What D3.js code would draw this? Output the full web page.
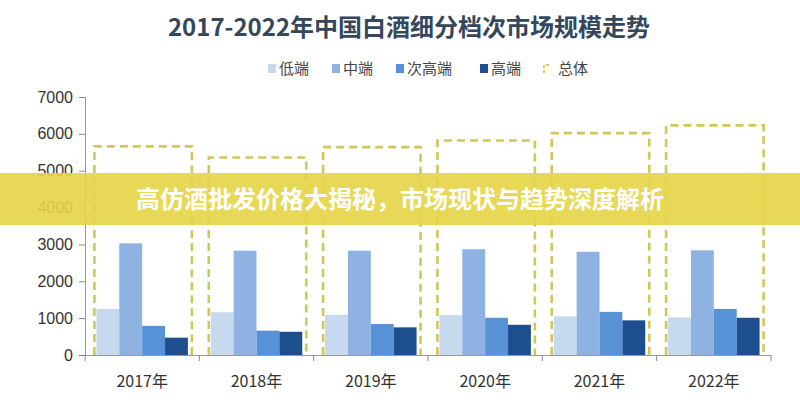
<!DOCTYPE html>
<html><head><meta charset="utf-8">
<script src="https://cdn.jsdelivr.net/npm/d3@7"></script>
<style>
html,body{margin:0;padding:0;background:#fff;}
svg{display:block;font-family:"Noto Sans CJK SC","Noto Sans",sans-serif;}
</style></head>
<body><svg id="c" width="800" height="400"></svg>
<script>
const years = ["2017年","2018年","2019年","2020年","2021年","2022年"];
const seriesNames = ["低端","中端","次高端","高端"];
const lowEnd   = [1250, 1160, 1090, 1080, 1050, 1020];
const midEnd   = [3030, 2830, 2830, 2870, 2800, 2840];
const subHigh  = [790, 660, 840, 1010, 1170, 1250];
const highEnd  = [470, 630, 750, 820, 940, 1010];
const totals   = [5660, 5360, 5640, 5820, 6020, 6230];
const yTicks   = [0,1000,2000,3000,4000,5000,6000,7000];
const colors   = ["#c6d9ef","#8eb3e2","#5892d6","#1d4f8e"];
const title = "2017-2022年中国白酒细分档次市场规模走势";
const banner = "高仿酒批发价格大揭秘，市场现状与趋势深度解析";

const values = [lowEnd, midEnd, subHigh, highEnd];
const svg = d3.select("#c");

const x = d3.scaleBand().domain(years).range([85, 771]);
const bw = x.bandwidth();
const x1 = d3.scaleBand().domain(seriesNames).range([bw*0.1, bw*0.9]);
const y = d3.scaleLinear().domain([0,7000]).range([355, 97]);

// title
svg.append("text").attr("x", 409).attr("y", 36).attr("text-anchor","middle")
  .attr("font-size", 24).attr("font-weight", "bold").attr("fill", "#34475b").text(title);

// legend
const legendX = [268, 332, 396, 480];
seriesNames.forEach((s,i)=>{
  svg.append("rect").attr("x", legendX[i]).attr("y", 64).attr("width", 8).attr("height", 9).attr("fill", colors[i]);
  svg.append("text").attr("x", legendX[i]+11).attr("y", 74).attr("font-size", 15).attr("fill","#444").text(s);
});
svg.append("path").attr("d","M544,73 L544,65 L551,65").attr("fill","none").attr("stroke","#dccb5a").attr("stroke-width",2).attr("stroke-dasharray","3 2");
svg.append("text").attr("x", 558).attr("y", 74).attr("font-size", 15).attr("fill","#444").text("总体");

// y axis
const yAxis = svg.append("g").attr("transform","translate(85,0)")
  .call(d3.axisLeft(y).tickValues(yTicks).tickSize(6).tickPadding(6).tickFormat(d3.format("d")));
yAxis.selectAll("text").attr("font-size", 16).attr("fill","#333").attr("font-family","'Liberation Sans',Arial,sans-serif");
yAxis.selectAll("line").attr("stroke","#888");
yAxis.select(".domain").attr("stroke","#999").attr("d","M-6,97.5H0.5V355.5H-6");

// bars
const g = svg.append("g");
years.forEach((yr, j)=>{
  seriesNames.forEach((s,i)=>{
    g.append("rect")
      .attr("x", x(yr)+x1(s)).attr("width", x1.bandwidth())
      .attr("y", y(values[i][j])).attr("height", y(0)-y(values[i][j]))
      .attr("fill", colors[i]);
  });
  const l = x(yr)+bw*0.1-2, r = x(yr)+bw*0.9+4, t = y(totals[j]);
  g.append("path").attr("d", `M${l},${y(0)} L${l},${t} L${r},${t} L${r},${y(0)}`)
    .attr("fill","none").attr("stroke","#d3c659").attr("stroke-width",2.6).attr("stroke-dasharray","8 5");
});

// x axis
const xAxisG = svg.append("g").attr("transform",`translate(0,${y(0)})`);
xAxisG.append("line").attr("x1",85).attr("x2",771).attr("y1",0.5).attr("y2",0.5).attr("stroke","#999");
const bounds = years.map(d=>x(d)).concat([x(years[years.length-1])+bw]);
xAxisG.selectAll("line.tk").data(bounds).enter().append("line").attr("class","tk")
  .attr("x1",d=>d).attr("x2",d=>d).attr("y1",0).attr("y2",6).attr("stroke","#888");
xAxisG.selectAll("text").data(years).enter().append("text")
  .attr("x", d=>x(d)+bw/2).attr("y", 32).attr("text-anchor","middle")
  .attr("font-size", 16).attr("fill","#333").text(d=>d);

// banner
svg.append("rect").attr("x",0).attr("y",173).attr("width",800).attr("height",52)
  .attr("fill","#e5d446").attr("opacity",0.9);
svg.append("text").attr("x", 400).attr("y", 208).attr("text-anchor","middle")
  .attr("font-size", 24).attr("font-weight","bold").attr("fill","#fff").text(banner);
</script></body></html>
